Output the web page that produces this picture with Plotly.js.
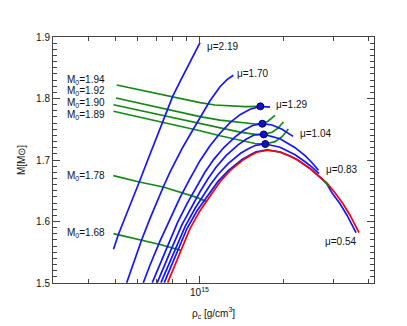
<!DOCTYPE html>
<html>
<head>
<meta charset="utf-8">
<script src="https://cdn.plot.ly/plotly-3.0.1.min.js"></script>
<style>html,body{margin:0;padding:0;background:#fff}#chart{width:407px;height:326px}</style>
</head>
<body>
<div id="chart"></div>
<script>
// central density in units of 1e15 g/cm^3, gravitational mass in solar masses
// constant-mu sequences (blue)
const mu219_rho = [0.4930, 0.5129, 0.5464, 0.5788, 0.6095, 0.6477, 0.6748, 0.7106, 0.7528, 0.8021, 0.8519, 0.9249, 1.0041];
const mu219_M   = [1.5550, 1.5785, 1.6102, 1.6379, 1.6642, 1.6956, 1.7167, 1.7436, 1.7709, 1.8034, 1.8273, 1.8598, 1.8907];

const mu170_rho = [0.5495, 0.5836, 0.6216, 0.6654, 0.7048, 0.7423, 0.7845, 0.8242, 0.8660, 0.9249, 1.0041, 1.0902, 1.1837, 1.2540, 1.3207];
const mu170_M   = [1.5005, 1.5346, 1.5704, 1.6046, 1.6322, 1.6561, 1.6802, 1.7005, 1.7184, 1.7411, 1.7688, 1.7964, 1.8192, 1.8306, 1.8379];

const mu129_rho = [0.6299, 0.6654, 0.7224, 0.7845, 0.8519, 0.9249, 1.0041, 1.0902, 1.1837, 1.2853, 1.3957, 1.5153, 1.6493, 1.7857];
const mu129_M   = [1.5005, 1.5289, 1.5680, 1.6046, 1.6387, 1.6696, 1.6989, 1.7233, 1.7436, 1.7607, 1.7737, 1.7826, 1.7872, 1.7859];

const mu104_rho = [0.6781, 0.7171, 0.7716, 0.8351, 0.9069, 0.9724, 1.0454, 1.1248, 1.2215, 1.3405, 1.4400, 1.5468, 1.6766, 1.8154, 1.9718, 2.1584];
const mu104_M   = [1.5005, 1.5276, 1.5623, 1.5984, 1.6307, 1.6554, 1.6800, 1.7010, 1.7203, 1.7377, 1.7483, 1.7561, 1.7590, 1.7569, 1.7501, 1.7384];

const mu093_rho = [0.7065, 0.7460, 0.8001, 0.8660, 0.9402, 1.0008, 1.0706, 1.1454, 1.2437, 1.3728, 1.4662, 1.5660, 1.6961, 1.9397, 2.1942, 2.3822, 2.5236, 2.6607];
const mu093_M   = [1.5005, 1.5270, 1.5592, 1.5948, 1.6260, 1.6472, 1.6691, 1.6881, 1.7070, 1.7246, 1.7337, 1.7407, 1.7416, 1.7346, 1.7200, 1.7070, 1.6956, 1.6834];

const mu083_rho = [0.7284, 0.7703, 0.8225, 0.8890, 0.9669, 1.0250, 1.0929, 1.1644, 1.2654, 1.4061, 1.4942, 1.5868, 1.7179, 1.9397, 2.1942, 2.3822, 2.5236, 2.6717];
const mu083_M   = [1.5005, 1.5265, 1.5568, 1.5922, 1.6224, 1.6405, 1.6597, 1.6764, 1.6941, 1.7114, 1.7184, 1.7239, 1.7260, 1.7208, 1.7086, 1.6972, 1.6883, 1.6777];

const mu054_rho = [0.7485, 0.7890, 0.8365, 0.9024, 0.9813, 1.0335, 1.0974, 1.1644, 1.2696, 1.4188, 1.5029, 1.5920, 1.7421, 1.9397, 2.1057, 2.2306, 2.4824, 2.6937, 2.8300, 2.9730, 3.1753, 3.3634, 3.6219];
const mu054_M   = [1.5005, 1.5260, 1.5533, 1.5886, 1.6179, 1.6327, 1.6498, 1.6652, 1.6831, 1.7010, 1.7075, 1.7132, 1.7166, 1.7130, 1.7065, 1.7008, 1.6862, 1.6728, 1.6634, 1.6468, 1.6289, 1.6102, 1.5818];

// non-rotating (red)
const tov_rho = [0.7697, 0.8107, 0.8589, 0.9249, 1.0041, 1.0549, 1.1174, 1.1837, 1.2853, 1.4341, 1.5153, 1.6012, 1.7565, 1.9397, 2.1057, 2.2306, 2.4824, 2.6937, 2.8534, 3.0473, 3.2546, 3.4473, 3.7123];
const tov_M   = [1.5005, 1.5257, 1.5530, 1.5883, 1.6176, 1.6322, 1.6493, 1.6647, 1.6826, 1.7005, 1.7070, 1.7127, 1.7159, 1.7127, 1.7062, 1.7005, 1.6859, 1.6728, 1.6623, 1.6468, 1.6289, 1.6102, 1.5818];

// constant baryon mass sequences (green)
const m194_rho = [0.5061, 0.6130, 0.7224, 0.8519, 1.0041, 1.1360, 1.2853, 1.4542, 1.6493];
const m194_M   = [1.8220, 1.8138, 1.8067, 1.7997, 1.7932, 1.7894, 1.7875, 1.7867, 1.7872];
const m192_rho = [0.5032, 0.7224, 1.0041, 1.1837, 1.3957, 1.5789, 1.6766, 1.7565, 1.8610];
const m192_M   = [1.8008, 1.7850, 1.7704, 1.7647, 1.7607, 1.7585, 1.7590, 1.7631, 1.7725];
const m190_rho = [0.4930, 0.7224, 1.0041, 1.1837, 1.3957, 1.5789, 1.6961, 1.8154, 1.9076, 1.9930];
const m190_M   = [1.7899, 1.7737, 1.7590, 1.7517, 1.7452, 1.7416, 1.7416, 1.7452, 1.7517, 1.7618];
const m189_rho = [0.4930, 0.7224, 1.0041, 1.1837, 1.3957, 1.5789, 1.7179, 1.8610, 1.9718, 2.0765];
const m189_M   = [1.7793, 1.7626, 1.7476, 1.7395, 1.7317, 1.7268, 1.7260, 1.7298, 1.7379, 1.7504];
const m178_rho = [0.4922, 0.6095, 0.7423, 0.8638, 0.9772, 1.0549];
const m178_M   = [1.6745, 1.6642, 1.6561, 1.6473, 1.6392, 1.6327];
const m168_rho = [0.4930, 0.6130, 0.7224, 0.8589];
const m168_M   = [1.5802, 1.5704, 1.5626, 1.5530];
const mlow_rho = [2.7620, 2.9007];
const mlow_M   = [1.6672, 1.6574];

// turning points (dots)
const dot_rho = [1.6493, 1.6766, 1.6961, 1.7179];
const dot_M   = [1.7872, 1.7590, 1.7416, 1.7260];

// labels
const muLabels = ['μ=2.19', 'μ=1.70', 'μ=1.29', 'μ=1.04', 'μ=0.83', 'μ=0.54'];
const muLabelRho = [1.046, 1.339, 1.846, 2.243, 2.784, 2.754];
const muLabelM = [1.8842, 1.8403, 1.7904, 1.7428, 1.6842, 1.5680];
const m0Labels = ['M<sub>0</sub>=1.94', 'M<sub>0</sub>=1.92', 'M<sub>0</sub>=1.90', 'M<sub>0</sub>=1.89', 'M<sub>0</sub>=1.78', 'M<sub>0</sub>=1.68'];
const m0LabelM = [1.8294, 1.8115, 1.7924, 1.7737, 1.6740, 1.5818];
const m0LabelRho = 0.4656;

const xTickVals = [1.0];
const xTickText = ['10<sup>15</sup>'];
const xMinorVals = [0.3, 0.4, 0.5, 0.6, 0.7, 0.8, 0.9, 2, 3, 4];

const E15 = 1e15;
const sc = a => a.map(v => v * E15);
const BLUE = 'rgb(20,20,255)', GREEN = 'rgb(20,135,20)', RED = 'rgb(255,0,0)';
const LW = 1.7;
function line(r, m, color) {
  return {x: sc(r), y: m, mode: 'lines', type: 'scatter', line: {color: color, width: LW}, hoverinfo: 'skip', showlegend: false};
}
const traces = [
  line(m194_rho, m194_M, GREEN), line(m192_rho, m192_M, GREEN), line(m190_rho, m190_M, GREEN),
  line(m189_rho, m189_M, GREEN), line(m178_rho, m178_M, GREEN), line(m168_rho, m168_M, GREEN),
  line(mu219_rho, mu219_M, BLUE), line(mu170_rho, mu170_M, BLUE), line(mu129_rho, mu129_M, BLUE),
  line(mu104_rho, mu104_M, BLUE), line(mu093_rho, mu093_M, BLUE), line(mu083_rho, mu083_M, BLUE),
  line(mu054_rho, mu054_M, BLUE),
  line(tov_rho, tov_M, RED),
  line(mlow_rho, mlow_M, GREEN),
  {x: sc(dot_rho), y: dot_M, mode: 'markers', type: 'scatter', marker: {color: 'rgb(20,20,190)', size: 7, line: {color: 'rgb(0,0,90)', width: 1}}, hoverinfo: 'skip', showlegend: false}
];

const FONT = 'Liberation Sans, Arial, Helvetica, sans-serif';
const annotations = [];
muLabels.forEach((t, i) => annotations.push({x: Math.log10(muLabelRho[i] * E15), y: muLabelM[i], text: t, showarrow: false, xanchor: 'left', yanchor: 'middle', font: {size: 10, color: '#111', family: FONT}}));
m0Labels.forEach((t, i) => annotations.push({x: Math.log10(m0LabelRho * E15), y: m0LabelM[i], text: t, showarrow: false, xanchor: 'right', yanchor: 'middle', font: {size: 10, color: '#111', family: FONT}}));

const axCol = '#444';
const layout = {
  width: 407, height: 326,
  margin: {l: 53, r: 33, t: 37, b: 43},
  paper_bgcolor: '#fff', plot_bgcolor: '#fff',
  font: {family: FONT, size: 10, color: '#111'},
  showlegend: false,
  xaxis: {
    type: 'log', range: [14.4768, 15.6232], showgrid: false, zeroline: false,
    showline: true, linecolor: axCol, linewidth: 1, mirror: 'ticks',
    ticks: 'inside', ticklen: 7, tickcolor: axCol, tickwidth: 1,
    tickmode: 'array', tickvals: sc(xTickVals), ticktext: xTickText,
    tickfont: {size: 10, color: '#111', family: FONT},
    minor: {tickmode: 'array', tickvals: sc(xMinorVals), ticks: 'inside', ticklen: 4, tickcolor: axCol, showgrid: false},
    title: {text: 'ρ<sub>c</sub> [g/cm<sup>3</sup>]', font: {size: 10, color: '#111', family: FONT}, standoff: 12}
  },
  yaxis: {
    range: [1.5, 1.9], showgrid: false, zeroline: false,
    showline: true, linecolor: axCol, linewidth: 1, mirror: 'ticks',
    ticks: 'inside', ticklen: 7, tickcolor: axCol, tickwidth: 1,
    tickmode: 'linear', tick0: 1.5, dtick: 0.1, tickformat: '.1f',
    tickfont: {size: 10, color: '#111', family: FONT},
    minor: {dtick: 0.01, ticks: 'inside', ticklen: 4, tickcolor: axCol, showgrid: false},
    title: {text: 'M[M⊙]', font: {size: 10, color: '#111', family: FONT}, standoff: 8}
  },
  annotations: annotations
};
Plotly.newPlot('chart', traces, layout, {displayModeBar: false, staticPlot: true});
</script>
</body>
</html>
